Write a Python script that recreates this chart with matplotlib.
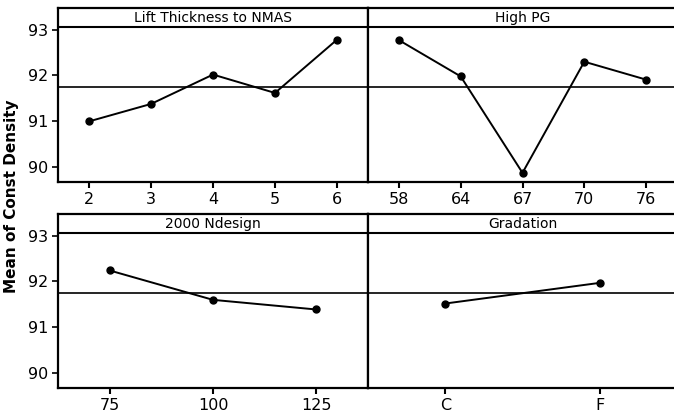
import matplotlib.pyplot as plt

# Дані: рівні факторів і середні значення
lift_levels = ['2', '3', '4', '5', '6']
lift_means = [91.00, 91.38, 92.02, 91.62, 92.78]

pg_levels = ['58', '64', '67', '70', '76']
pg_means = [92.77, 91.98, 89.88, 92.30, 91.91]

ndesign_levels = ['75', '100', '125']
ndesign_means = [92.24, 91.60, 91.39]

gradation_levels = ['C', 'F']
gradation_means = [91.52, 91.97]

panel_titles = ['Lift Thickness to NMAS', 'High PG', '2000 Ndesign', 'Gradation']
grand_mean = 91.76
y_ticks = [90, 91, 92, 93]

W, H = 674, 415
fig = plt.figure(figsize=(W / 100, H / 100), dpi=100)


def box(x0, y0, x1, y1):
    # піксельні координати -> частки фігури
    return [x0 / W, 1 - y1 / H, (x1 - x0) / W, (y1 - y0) / H]


boxes = [box(58, 8, 368, 182), box(368, 8, 677, 182),
         box(58, 214, 368, 388), box(368, 214, 677, 388)]
data = [(lift_levels, lift_means), (pg_levels, pg_means),
        (ndesign_levels, ndesign_means), (gradation_levels, gradation_means)]

for i, (rect, (levels, means), title) in enumerate(zip(boxes, data, panel_titles)):
    ax = fig.add_axes(rect)
    pos = list(range(len(levels)))
    ax.plot(pos, means, color='black', lw=1.4, marker='o', ms=5)
    ax.axhline(grand_mean, color='black', lw=1.2)
    ax.axhline(93.05, color='black', lw=1.5)
    ax.text(0.5, 0.945, title, transform=ax.transAxes, ha='center', va='center',
            fontsize=10, family='DejaVu Sans')
    ax.set_xlim(-0.5, len(levels) - 0.5)
    ax.set_ylim(89.68, 93.47)
    ax.set_xticks(pos)
    ax.set_xticklabels(levels, fontsize=11.5)
    ax.tick_params(axis='x', length=4, width=1.5, pad=3)
    if i % 2 == 0:
        ax.set_yticks(y_ticks)
        ax.tick_params(axis='y', length=4, width=1.2, labelsize=11.5, pad=3)
    else:
        ax.set_yticks([])
    for s in ax.spines.values():
        s.set_linewidth(1.6)

fig.text(12 / W, 1 - 196 / H, 'Mean of Const Density', rotation=90,
         ha='center', va='center', fontsize=11, fontweight='bold')

plt.savefig('out.png', dpi=100)
